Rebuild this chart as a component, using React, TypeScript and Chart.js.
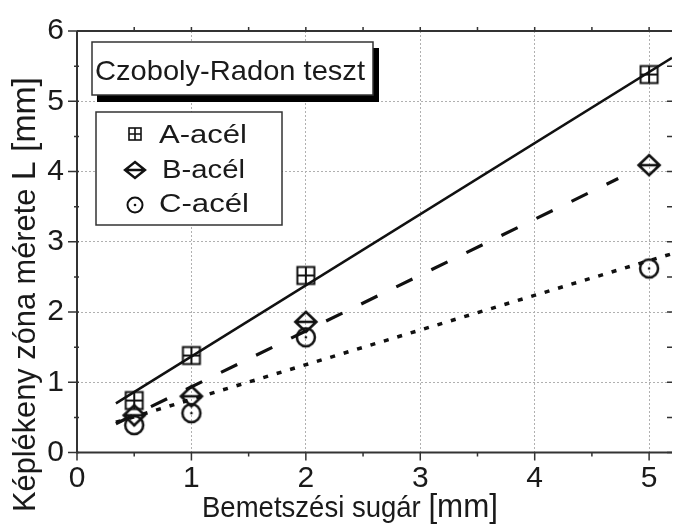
import React, { useEffect, useRef } from "react";
import { Chart, registerables } from "chart.js";

Chart.register(...registerables);

const FONT = '"Liberation Sans", Arial, sans-serif';
const INK = "#111111";
const AXIS = "#333333";

// ---- data ----
const xValues = [0.5, 1, 2, 5];
const seriesA = [0.74, 1.38, 2.52, 5.38];
const seriesB = [0.53, 0.8, 1.86, 4.09];
const seriesC = [0.39, 0.56, 1.64, 2.62];

const fitAx = [0.34, 5.2];
const fitAy = [0.7, 5.62];
const fitBx = [0.34, 4.73];
const fitBy = [0.41, 3.9];
const fitCx = [0.34, 5.2];
const fitCy = [0.43, 2.83];

const seriesNames = ["A-acél", "B-acél", "C-acél"];
const boxTitle = "Czoboly-Radon teszt";
const xTitleParts: [string, number][] = [["Bemetszési sugár ", 29], ["[mm]", 33]];
const yTitleParts: [string, number][] = [["Képlékeny zóna mérete ", 31], ["L [mm]", 34]];

const X_MIN = 0;
const X_MAX = 5.2;
const Y_MIN = 0;
const Y_MAX = 6;
const X_MINOR = [0.5, 1, 1.5, 2, 2.5, 3, 3.5, 4, 4.5, 5];
const X_MAJOR = [0, 1, 2, 3, 4, 5];
const Y_MINOR = [0.5, 1.5, 2.5, 3.5, 4.5, 5.5];
const Y_MAJOR = [0, 1, 2, 3, 4, 5, 6];

// ---- marker drawing ----
function drawSquare(ctx: CanvasRenderingContext2D, cx: number, cy: number, s: number, lw: number) {
  ctx.save();
  ctx.strokeStyle = INK;
  ctx.lineWidth = lw;
  ctx.strokeRect(cx - s / 2, cy - s / 2, s, s);
  ctx.beginPath();
  ctx.moveTo(cx, cy - s / 2);
  ctx.lineTo(cx, cy + s / 2);
  ctx.moveTo(cx - s / 2, cy);
  ctx.lineTo(cx + s / 2, cy);
  ctx.stroke();
  ctx.restore();
}

function drawDiamond(ctx: CanvasRenderingContext2D, cx: number, cy: number, w: number, h: number, lw: number) {
  ctx.save();
  ctx.strokeStyle = INK;
  ctx.lineWidth = lw;
  ctx.lineJoin = "miter";
  ctx.beginPath();
  ctx.moveTo(cx, cy - h / 2);
  ctx.lineTo(cx + w / 2, cy);
  ctx.lineTo(cx, cy + h / 2);
  ctx.lineTo(cx - w / 2, cy);
  ctx.closePath();
  ctx.moveTo(cx - w / 2, cy);
  ctx.lineTo(cx + w / 2, cy);
  ctx.stroke();
  ctx.restore();
}

function drawCircle(ctx: CanvasRenderingContext2D, cx: number, cy: number, r: number, lw: number) {
  ctx.save();
  ctx.strokeStyle = INK;
  ctx.fillStyle = INK;
  ctx.lineWidth = lw;
  ctx.beginPath();
  ctx.arc(cx, cy, r, 0, Math.PI * 2);
  ctx.stroke();
  ctx.beginPath();
  ctx.arc(cx, cy, 1.3, 0, Math.PI * 2);
  ctx.fill();
  ctx.restore();
}

function makeMarker(kind: "square" | "diamond" | "circle"): HTMLCanvasElement {
  const c = document.createElement("canvas");
  c.width = 28;
  c.height = 28;
  const ctx = c.getContext("2d")!;
  if (kind === "square") drawSquare(ctx, 14, 14, 17, 2);
  if (kind === "diamond") drawDiamond(ctx, 14, 14, 21, 20, 2.6);
  if (kind === "circle") drawCircle(ctx, 14, 14, 9, 2.5);
  return c;
}

function drawParts(
  ctx: CanvasRenderingContext2D,
  parts: [string, number][],
  x: number,
  y: number,
  target: number,
  angle: number
) {
  ctx.save();
  ctx.translate(x, y);
  ctx.rotate(angle);
  ctx.textAlign = "left";
  ctx.textBaseline = "alphabetic";
  ctx.fillStyle = "#1a1a1a";
  const widths = parts.map(([t, s]) => {
    ctx.font = `${s}px ${FONT}`;
    return ctx.measureText(t).width;
  });
  const total = widths.reduce((a, b) => a + b, 0);
  ctx.scale(target / total, 1);
  let cx = 0;
  parts.forEach(([t, s], i) => {
    ctx.font = `${s}px ${FONT}`;
    ctx.fillText(t, cx, 0);
    cx += widths[i];
  });
  ctx.restore();
}

const decorPlugin = {
  id: "decor",
  afterDraw(chart: any) {
    const ctx: CanvasRenderingContext2D = chart.ctx;
    const xs = chart.scales.x;
    const ys = chart.scales.y;
    const { left, right, top, bottom } = chart.chartArea;

    ctx.save();
    // frame
    ctx.strokeStyle = AXIS;
    ctx.lineWidth = 2;
    ctx.beginPath();
    ctx.moveTo(left, top);
    ctx.lineTo(left, bottom);
    ctx.lineTo(right, bottom);
    ctx.moveTo(left, top);
    ctx.lineTo(right, top);
    ctx.stroke();

    ctx.lineWidth = 1.5;
    ctx.beginPath();
    // bottom ticks
    X_MAJOR.forEach((v) => {
      const px = xs.getPixelForValue(v);
      ctx.moveTo(px, bottom);
      ctx.lineTo(px, bottom + 8);
    });
    X_MINOR.forEach((v) => {
      const px = xs.getPixelForValue(v);
      ctx.moveTo(px, bottom);
      ctx.lineTo(px, bottom + 4);
      // top ticks
      ctx.moveTo(px, top);
      ctx.lineTo(px, top - 4);
    });
    // left ticks
    Y_MAJOR.forEach((v) => {
      const py = ys.getPixelForValue(v);
      ctx.moveTo(left - 9, py);
      ctx.lineTo(left + 2, py);
    });
    Y_MINOR.forEach((v) => {
      const py = ys.getPixelForValue(v);
      ctx.moveTo(left - 3, py);
      ctx.lineTo(left + 2, py);
    });
    // right ticks
    [...Y_MAJOR, ...Y_MINOR].forEach((v) => {
      const py = ys.getPixelForValue(v);
      ctx.moveTo(right, py);
      ctx.lineTo(right - 5, py);
    });
    ctx.stroke();

    // title box with shadow
    ctx.fillStyle = "#000";
    ctx.fillRect(97, 48, 282, 54);
    ctx.fillStyle = "#fff";
    ctx.fillRect(92, 42, 281, 53);
    ctx.strokeStyle = AXIS;
    ctx.lineWidth = 1.5;
    ctx.strokeRect(92, 42, 281, 53);
    drawParts(ctx, [[boxTitle, 28]], 95, 80, 270, 0);

    // legend box
    ctx.fillStyle = "#fff";
    ctx.fillRect(96, 112, 186, 113);
    ctx.strokeStyle = AXIS;
    ctx.lineWidth = 1.5;
    ctx.strokeRect(96, 112, 186, 113);
    drawSquare(ctx, 135, 134, 12, 1.6);
    drawDiamond(ctx, 135, 170, 20, 16, 2.4);
    drawCircle(ctx, 135, 205, 7.5, 2);
    drawParts(ctx, [[seriesNames[0], 25]], 159, 143, 88, 0);
    drawParts(ctx, [[seriesNames[1], 25]], 162, 178, 83, 0);
    drawParts(ctx, [[seriesNames[2], 25]], 159, 212, 90, 0);

    // axis titles
    drawParts(ctx, xTitleParts, 202, 517, 296, 0);
    drawParts(ctx, yTitleParts, 35, 512, 435, -Math.PI / 2);
    ctx.restore();
  },
};

function pts(xa: number[], ya: number[]) {
  return xa.map((x, i) => ({ x, y: ya[i] }));
}

export default function App() {
  const ref = useRef<HTMLCanvasElement | null>(null);

  useEffect(() => {
    if (!ref.current) return;
    const mA = makeMarker("square");
    const mB = makeMarker("diamond");
    const mC = makeMarker("circle");
    const chart = new Chart(ref.current, {
      type: "scatter",
      data: {
        datasets: [
          {
            label: seriesNames[0],
            data: pts(xValues, seriesA),
            pointStyle: mA as any,
            pointRadius: 10,
            showLine: false,
          },
          {
            label: seriesNames[1],
            data: pts(xValues, seriesB),
            pointStyle: mB as any,
            pointRadius: 10,
            showLine: false,
          },
          {
            label: seriesNames[2],
            data: pts(xValues, seriesC),
            pointStyle: mC as any,
            pointRadius: 10,
            showLine: false,
          },
          {
            label: "fitA",
            data: pts(fitAx, fitAy),
            showLine: true,
            borderColor: INK,
            borderWidth: 2.5,
            pointRadius: 0,
          },
          {
            label: "fitB",
            data: pts(fitBx, fitBy),
            showLine: true,
            borderColor: INK,
            borderWidth: 3.2,
            borderDash: [18, 21],
            pointRadius: 0,
          },
          {
            label: "fitC",
            data: pts(fitCx, fitCy),
            showLine: true,
            borderColor: INK,
            borderWidth: 3.5,
            borderDash: [5, 9],
            pointRadius: 0,
          },
        ],
      },
      options: {
        animation: false,
        responsive: false,
        devicePixelRatio: 1,
        layout: { padding: { top: 29, right: 0, left: 0, bottom: 0 } },
        plugins: {
          legend: { display: false },
          tooltip: { enabled: false },
          title: { display: false },
        },
        scales: {
          x: {
            type: "linear",
            min: X_MIN,
            max: X_MAX,
            ticks: {
              stepSize: 1,
              includeBounds: false,
              autoSkip: false,
              maxRotation: 0,
              padding: 8,
              color: "#1a1a1a",
              font: { family: FONT, size: 30 },
            },
            grid: { color: "#b0b0b0", lineWidth: 1, drawTicks: false },
            border: { display: false, dash: [2, 2] },
            afterFit: (s: any) => {
              s.height = 72.5;
            },
          },
          y: {
            type: "linear",
            min: Y_MIN,
            max: Y_MAX,
            ticks: {
              stepSize: 1,
              padding: 13,
              color: "#1a1a1a",
              font: { family: FONT, size: 30 },
            },
            grid: { color: "#b0b0b0", lineWidth: 1, drawTicks: false },
            border: { display: false, dash: [2, 2] },
            afterFit: (s: any) => {
              s.width = 77;
            },
          },
        },
      },
      plugins: [decorPlugin],
    });
    return () => chart.destroy();
  }, []);

  return (
    <div style={{ position: "fixed", left: 0, top: 0, width: 683, height: 525, background: "#fff" }}>
      <canvas ref={ref} width={683} height={525} />
    </div>
  );
}
